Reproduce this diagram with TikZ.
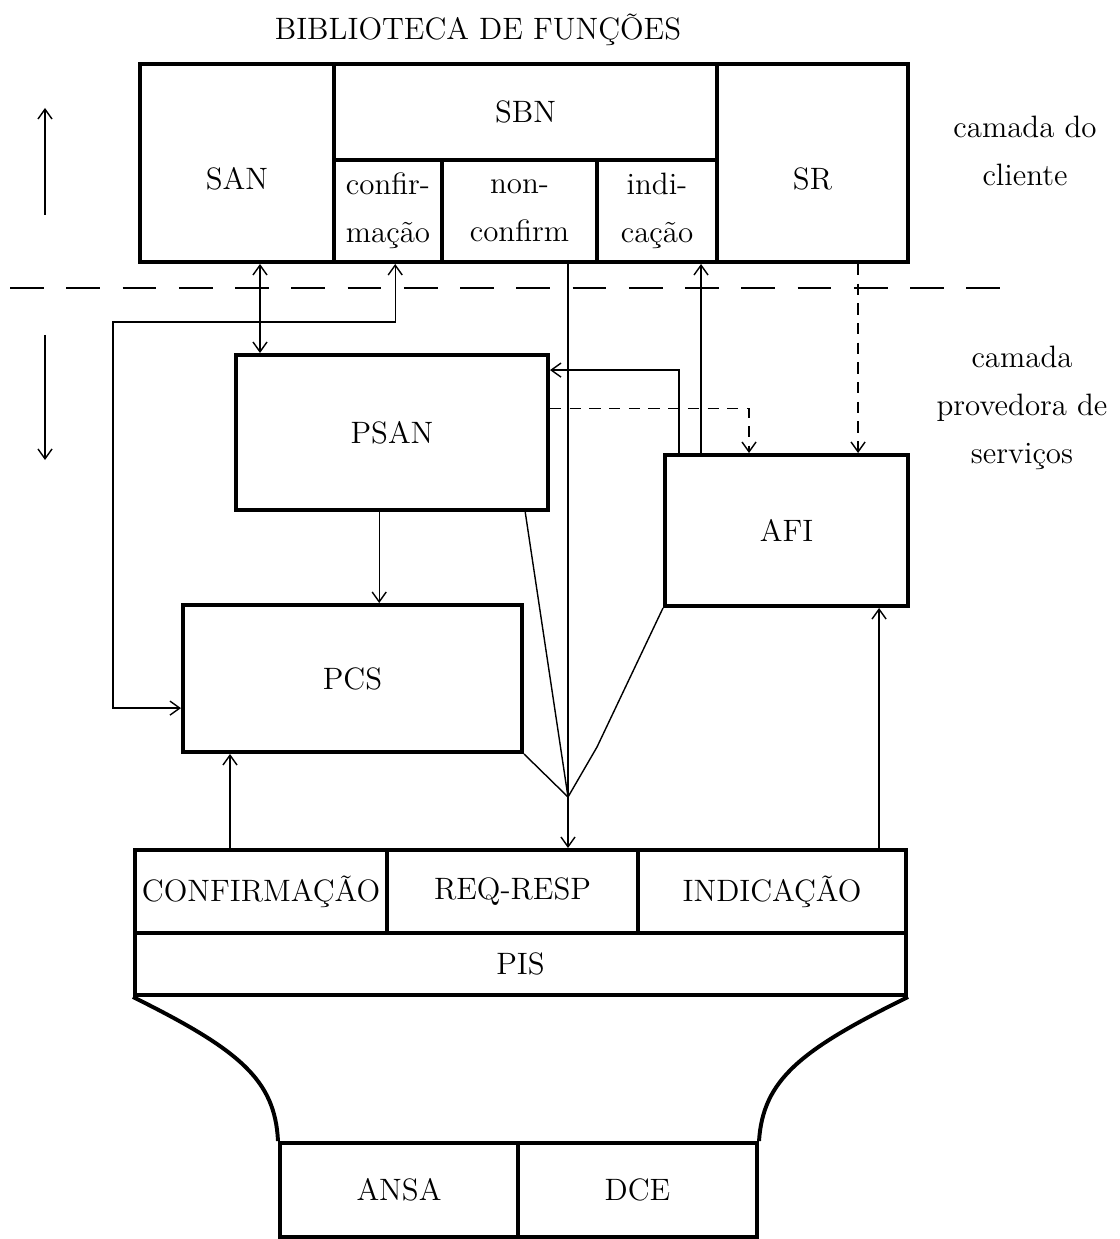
\documentclass[tikz,border=0pt]{standalone}
\usepackage{tikz}
\usetikzlibrary{arrows.meta}

\begin{document}
\begin{tikzpicture}[x=0.0125cm,y=-0.0125cm,>={Straight Barb[length=3.5pt,width=5pt]}]
	\tikzset{box/.style={draw,line width=1.4pt,inner sep=0pt,align=center,font=\fontsize{11}{17}\selectfont},
		lowtext/.style={text height=19pt,text depth=0pt},
		txt/.style={align=center,font=\fontsize{11}{17}\selectfont},
		link/.style={line width=0.5pt},
		dlink/.style={line width=0.5pt,dash pattern=on 4pt off 3pt}};
	\useasboundingbox (0,0) rectangle (1119,1239);
	% camada do cliente
	\node[txt] (title) at (478,30) {BIBLIOTECA DE FUNÇÕES};
	\node[box,lowtext,minimum width=2.425cm,minimum height=2.475cm] (SAN) at (237,163) {SAN};
	\node[box,minimum width=4.7875cm,minimum height=1.2cm] (SBN) at (525.5,112) {SBN};
	\node[box,minimum width=1.35cm,minimum height=1.275cm] (conf) at (388,211) {confir-\\mação};
	\node[box,minimum width=1.9375cm,minimum height=1.275cm] (nonc) at (519.5,211) {non-\\confirm};
	\node[box,minimum width=1.5cm,minimum height=1.275cm] (indi) at (657,211) {indi-\\cação};
	\node[box,lowtext,minimum width=2.3875cm,minimum height=2.475cm] (SR) at (812.5,163) {SR};
	\node[txt] (client) at (1025,151) {camada do\\cliente};
	\node[txt] (provider) at (1022,408) {camada\\provedora de\\serviços};
	\coordinate (sepL) at (10,288);
	\coordinate (sepR) at (1010,288);
	\draw[line width=0.6pt,dash pattern=on 12pt off 8pt] (sepL) -- (sepR);
	\coordinate (upS) at (45,215);
	\coordinate (upE) at (45,108);
	\coordinate (dnS) at (45,335);
	\coordinate (dnE) at (45,460);
	\draw[link,->] (upS) -- (upE);
	\draw[link,->] (dnS) -- (dnE);
	% camada provedora
	\node[box,minimum width=3.9cm,minimum height=1.9375cm] (PSAN) at (392,432.5) {PSAN};
	\node[box,minimum width=4.2375cm,minimum height=1.8375cm] (PCS) at (352.5,678.5) {PCS};
	\node[box,minimum width=3.0375cm,minimum height=1.8875cm] (AFI) at (786.5,530.5) {AFI};
	\node[box,minimum width=3.15cm,minimum height=1.0375cm] (CONF) at (261,891.5) {CONFIRMAÇÃO};
	\node[box,minimum width=3.1375cm,minimum height=1.0375cm] (REQ) at (512.5,891.5) {REQ-RESP};
	\node[box,minimum width=3.35cm,minimum height=1.0375cm] (IND) at (772,891.5) {INDICAÇÃO};
	\node[box,minimum width=9.6375cm,minimum height=0.775cm] (PIS) at (520.5,964) {PIS};
	\node[box,minimum width=2.975cm,minimum height=1.175cm] (ANSA) at (399,1190) {ANSA};
	\node[box,minimum width=2.9875cm,minimum height=1.175cm] (DCE) at (637.5,1190) {DCE};
	\draw[line width=1.4pt] (PIS.south west) .. controls (240,1050) and (275,1080) .. (ANSA.north west);
	\draw[line width=1.4pt] (PIS.south east) .. controls (800,1050) and (763,1080) .. (DCE.north east);
	% ligacoes
	\draw[link,<->] ([xshift=0.325cm]PSAN.north west |- SAN.south) -- ([xshift=0.325cm]PSAN.north west);
	\draw[link,<->] ([xshift=0.09cm]conf.south) |- (113,322) |- ([yshift=-0.37cm]PCS.west);
	\draw[link,->] ([xshift=-0.16cm]PSAN.south) -- ([xshift=-0.16cm]PSAN.south |- PCS.north);
	\draw[link,->] ([xshift=0.6125cm]PCS.south west |- CONF.north) -- ([xshift=0.6125cm]PCS.south west);
	\coordinate (merge) at (568,797);
	\draw[link] (nonc.south -| merge) -- (merge);
	\draw[link] ([xshift=-0.31cm]PSAN.south east) -- (merge);
	\draw[link] (PCS.south east) -- (merge);
	\draw[link] (AFI.south west) -- (597,747) -- (merge);
	\draw[link,->] (merge) -- (merge |- REQ.north);
	\draw[link,->] ([xshift=0.475cm]AFI.north west) -- ([xshift=0.475cm]AFI.north west |- indi.south);
	\draw[link,->] ([xshift=0.2cm]AFI.north west) |- ([yshift=0.78cm]PSAN.east);
	\draw[dlink,->] ([yshift=0.3cm]PSAN.east) -| ([xshift=1.075cm]AFI.north west);
	\draw[dlink,->] ([xshift=2.4375cm]AFI.north west |- SR.south) -- ([xshift=2.4375cm]AFI.north west);
	\draw[link,->] ([xshift=2.7cm]AFI.south west |- IND.north) -- ([xshift=2.7cm]AFI.south west);
\end{tikzpicture}
\end{document}
